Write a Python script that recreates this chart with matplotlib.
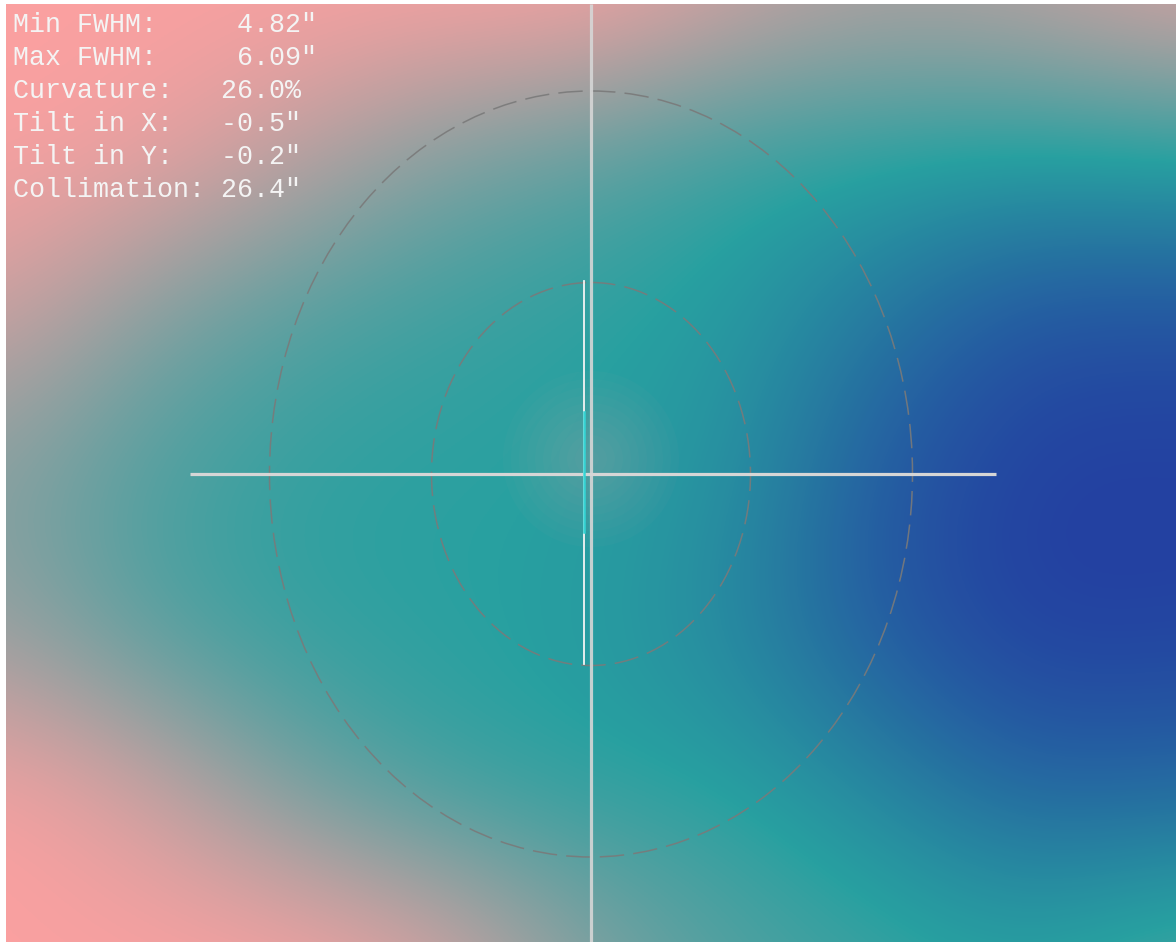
import numpy as np
import matplotlib
matplotlib.use('Agg')
import matplotlib.pyplot as plt
from matplotlib.colors import LinearSegmentedColormap
from matplotlib.patches import Ellipse, Circle

# sensor area in pixels (data coords, y pointing down)
width, height = 1170, 938

# FWHM (arcsec) sampled on a coarse 7 x 9 grid across the sensor
fwhm_grid = np.array([
    [6.09, 6.09, 6.09, 6.09, 6.09, 5.96, 5.86, 5.90, 6.00],
    [6.09, 6.05, 5.90, 5.71, 5.61, 5.49, 5.46, 5.43, 5.46],
    [5.96, 5.73, 5.58, 5.51, 5.46, 5.42, 5.20, 4.97, 4.97],
    [5.73, 5.56, 5.48, 5.46, 5.46, 5.37, 5.01, 4.86, 4.86],
    [5.79, 5.58, 5.48, 5.46, 5.43, 5.30, 5.01, 4.86, 4.88],
    [6.09, 5.96, 5.68, 5.51, 5.46, 5.46, 5.30, 5.07, 5.10],
    [6.09, 6.09, 6.09, 5.99, 5.73, 5.58, 5.52, 5.46, 5.58],
])
fwhm_min, fwhm_max = 4.82, 6.09

# center of the sensor / optical axis
center = (585, 470)
# dashed reference ellipses (width, height)
ellipses = [(643, 766), (319, 383)]
# crosshair extents
h_line = (184, 990)
# tilt indicator
tilt_x = 577.5
tilt_span = (277, 660)
tilt_cyan = (408, 528)
# soft glow around the center
glow_radii = np.arange(8, 96, 8)

stats = ['Min FWHM:     4.82"',
         'Max FWHM:     6.09"',
         'Curvature:   26.0%',
         'Tilt in X:   -0.5"',
         'Tilt in Y:   -0.2"',
         'Collimation: 26.4"']

cmap = LinearSegmentedColormap.from_list(
    'fwhm', [(0.0, '#2339a2'), (0.5, '#28a0a0'), (1.0, '#faa0a0')])

fig = plt.figure(figsize=(11.76, 9.45), dpi=100)
ax = fig.add_axes([6/1176, 2/945, 1170/1176, 938/945])

ny, nx = fwhm_grid.shape
dx = width / (nx - 1)
dy = height / (ny - 1)
ax.imshow(fwhm_grid, cmap=cmap, vmin=fwhm_min, vmax=fwhm_max,
          interpolation='bicubic', origin='upper', aspect='auto',
          extent=(-dx/2, width + dx/2, height + dy/2, -dy/2))

for r in glow_radii:
    ax.add_patch(Circle((center[0], center[1] - 15), r, color='#c8aaaa',
                        alpha=0.03, lw=0))

for w, h in ellipses:
    e = Ellipse(center, w, h, fill=False, edgecolor='#7a7a7a', lw=1.1,
                linestyle=(0, (16, 6)), alpha=0.9)
    ax.add_patch(e)

line_col = '#d6d6d6'
ax.plot(h_line, [center[1], center[1]], color=line_col, lw=2.3,
        solid_capstyle='butt')
ax.plot([center[0], center[0]], [0, height], color=line_col, lw=2.3,
        alpha=0.9, solid_capstyle='butt')
ax.plot([tilt_x, tilt_x], tilt_span, color='#f4f4f4', lw=1.3)
ax.plot([tilt_x + 0.5, tilt_x + 0.5], tilt_cyan, color='#35d4d4', lw=1.8)

for i, s in enumerate(stats):
    ax.text(7, 20 + i * 33, s, color='#f4f4f4', fontsize=19.2,
            family=['Liberation Mono', 'DejaVu Sans Mono'], va='center',
            ha='left')

ax.set_xlim(0, width)
ax.set_ylim(height, 0)
ax.axis('off')

fig.savefig('out.png', dpi=100, facecolor='white')
